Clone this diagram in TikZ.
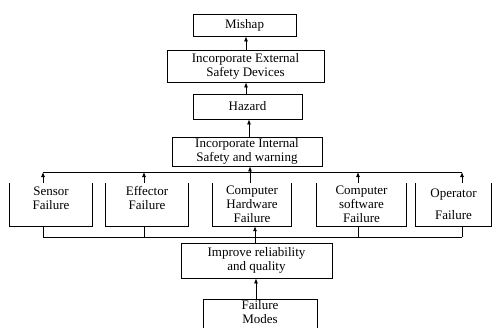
\documentclass[tikz,border=0pt]{standalone}
\usepackage{fontspec}
\setmainfont{Liberation Serif}
\usetikzlibrary{arrows.meta}
\tikzset{
  box/.style={draw, line width=0.8pt, inner sep=0pt, align=center, font=\fontsize{13}{14}\selectfont},
  obox/.style={inner sep=0pt, align=center, font=\fontsize{13}{14}\selectfont},
  txt/.style={inner sep=0pt, align=center, font=\fontsize{13}{14}\selectfont},
  wire/.style={line width=0.8pt},
  arr/.style={line width=0.8pt, -{Latex[length=5pt,width=4pt]}}
}
\begin{document}
\begin{tikzpicture}[x=1pt,y=-1pt]
\clip (0,0) rectangle (493,327);
\fill[white] (0,0) rectangle (493,327);
% top chain
\node[box, minimum width=103pt, minimum height=22pt] (mishap) at (244.5,25) {Mishap};
\node[box, minimum width=157pt, minimum height=32pt] (ext) at (245.5,66) {Incorporate External\\Safety Devices};
\node[box, minimum width=109pt, minimum height=25pt] (hazard) at (247.5,106.5) {Hazard};
\node[box, minimum width=150pt, minimum height=29pt] (internal) at (247,151.5) {Incorporate Internal\\Safety and warning};
% failure boxes (open top)
\node[obox, minimum width=82pt, minimum height=43pt] (sensor) at (51,204.5) {};
\node[txt] (sensortxt) at (51,198) {Sensor\\Failure};
\node[obox, minimum width=82pt, minimum height=43pt] (effector) at (147,204.5) {};
\node[txt] (effectortxt) at (147,198) {Effector\\Failure};
\node[obox, minimum width=78pt, minimum height=43pt] (hardware) at (252,204.5) {Computer\\Hardware\\Failure};
\node[obox, minimum width=89pt, minimum height=43pt] (software) at (361.5,204.5) {Computer\\software\\Failure};
\node[obox, minimum width=75pt, minimum height=43pt] (operator) at (453.5,204.5) {Operator\\[8pt]Failure};
\foreach \n in {sensor,effector,hardware,software,operator}
  \draw[wire] (\n.north west) -- (\n.south west) -- (\n.south east) -- (\n.north east);
% lower boxes
\node[box, minimum width=151pt, minimum height=35pt] (improve) at (256.5,260.5) {Improve reliability\\and quality};
\node[box, minimum width=114pt, minimum height=42pt, anchor=north] (modes) at (260,299) {};
\node[txt] (modestxt) at (260,312.5) {Failure\\Modes};
% coordinates
\coordinate (ax) at (246,0);
\coordinate (ay) at (249,0);
\coordinate (b1) at (43,172);
\coordinate (b2) at (144,172);
\coordinate (b3) at (250,172);
\coordinate (b4) at (358,172);
\coordinate (b5) at (462,172);
\coordinate (c1) at (43,237);
\coordinate (c2) at (144,237);
\coordinate (c3) at (255,237);
\coordinate (c4) at (358,237);
\coordinate (c5) at (462,237);
\coordinate (d) at (256,0);
% arrows of top chain
\draw[arr] (ext.north -| ax) -- (mishap.south -| ax);
\draw[arr] (hazard.north -| ax) -- (ext.south -| ax);
\draw[arr] (internal.north -| ay) -- (hazard.south -| ay);
\draw[arr] (hardware.north -| b3) -- (internal.south -| b3);
% upper bus
\draw[wire] (b1) -- (b5);
\draw[arr] (sensor.north -| b1) -- (b1);
\draw[arr] (effector.north -| b2) -- (b2);
\draw[arr] (software.north -| b4) -- (b4);
\draw[arr] (operator.north -| b5) -- (b5);
% lower bus
\draw[wire] (c1) -- (c5);
\draw[wire] (sensor.south -| c1) -- (c1);
\draw[wire] (effector.south -| c2) -- (c2);
\draw[wire] (software.south -| c4) -- (c4);
\draw[wire] (operator.south -| c5) -- (c5);
\draw[arr] (improve.north -| c3) -- (hardware.south -| c3);
\draw[arr] (modes.north -| d) -- (improve.south -| d);
\end{tikzpicture}
\end{document}
